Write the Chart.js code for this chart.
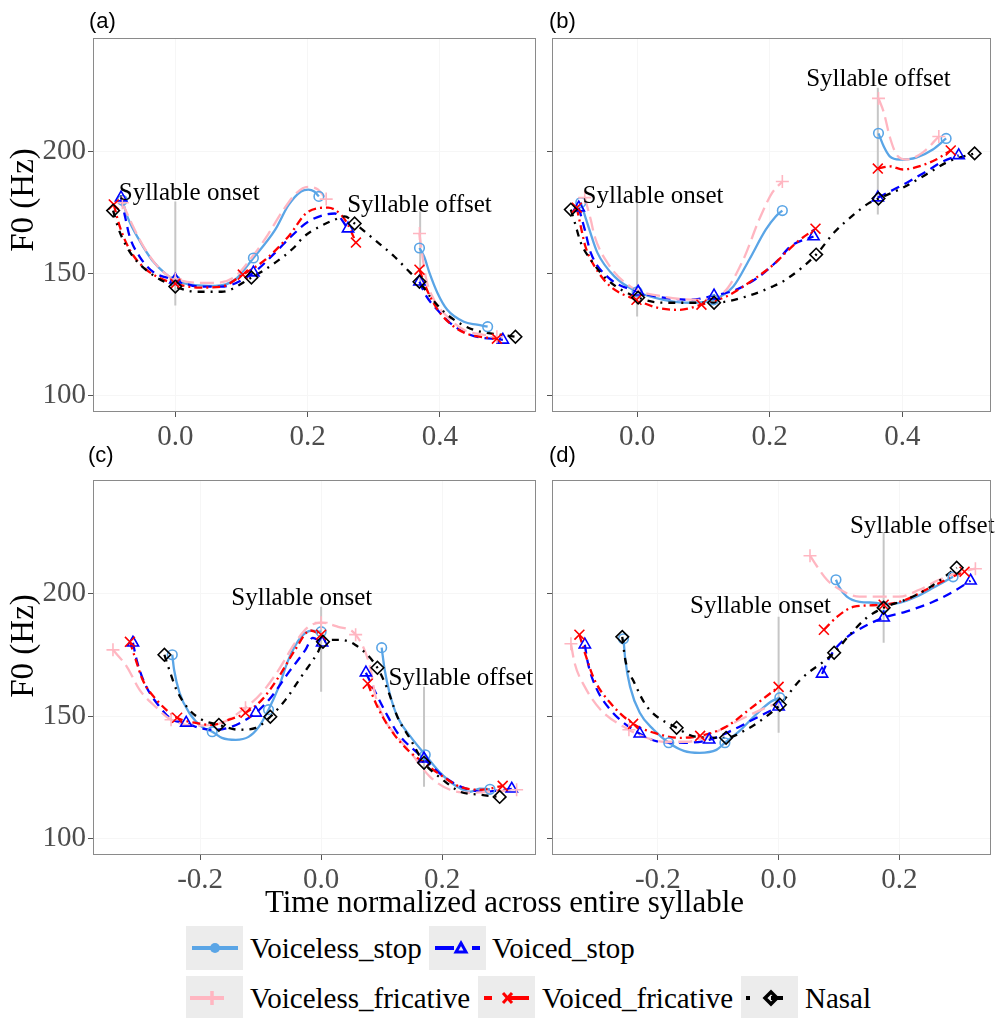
<!DOCTYPE html>
<html><head><meta charset="utf-8">
<script src="https://cdn.jsdelivr.net/npm/chart.js@4.4.1/dist/chart.umd.min.js"></script>
<style>
html,body{margin:0;padding:0;background:#fff;}
#root{position:relative;width:1000px;height:1018px;overflow:hidden;font-family:"Liberation Serif","Times New Roman",serif;background:#fff;}
#root canvas{position:absolute;}
.tag{position:absolute;font-family:"Liberation Sans",Arial,sans-serif;font-size:22px;line-height:22px;color:#000;}
.ytl{position:absolute;width:200px;height:40px;line-height:40px;text-align:center;font-size:33px;color:#000;transform:rotate(-90deg);white-space:nowrap;}
.xtl{position:absolute;left:0;width:1009px;text-align:center;font-size:31px;line-height:31px;top:886px;color:#000;white-space:nowrap;}
.key{position:absolute;width:57px;height:44px;}
.ltx{position:absolute;font-size:29px;line-height:44px;height:44px;color:#000;white-space:nowrap;}
</style></head><body><div id="root">
<canvas id="cA" width="545" height="440" style="left:0;top:18px;width:545px;height:440px"></canvas>
<canvas id="cB" width="458" height="440" style="left:542px;top:18px;width:458px;height:440px"></canvas>
<canvas id="cC" width="545" height="441" style="left:0;top:460px;width:545px;height:441px"></canvas>
<canvas id="cD" width="458" height="441" style="left:542px;top:460px;width:458px;height:441px"></canvas>
<div class="tag" style="left:89px;top:10px">(a)</div>
<div class="tag" style="left:549px;top:10px">(b)</div>
<div class="tag" style="left:88px;top:444px">(c)</div>
<div class="tag" style="left:549px;top:444px">(d)</div>
<div class="ytl" style="left:-78px;top:180px">F0 (Hz)</div>
<div class="ytl" style="left:-78px;top:626px">F0 (Hz)</div>
<div class="xtl">Time normalized across entire syllable</div>
<div id="legend"></div>
</div>
<script>
// ---------- axis / tick values ----------
const Y_TICKS = [100, 150, 200];
const Y_RANGE = [93.4, 246.4];
const X_TICKS_TOP = [0, 0.2, 0.4];
const X_TICKS_BOTTOM = [-0.2, 0, 0.2];
const X_RANGE_A = [-0.1244, 0.5457];
const X_RANGE_B = [-0.1284, 0.5343];
const X_RANGE_C = [-0.377, 0.3557];
const X_RANGE_D = [-0.3754, 0.3525];

const SERIES = ['Voiceless_stop', 'Voiced_stop', 'Voiceless_fricative', 'Voiced_fricative', 'Nasal'];

// ---------- panel (a) ----------
const A_VLSTOP_1 = [[-0.08,180],[-0.072,173],[-0.054,163.5],[-0.035,155.5],[-0.015,150],[0,147.2],[0.03,145.3],[0.06,145],[0.09,147.5],[0.118,156.4],[0.151,168],[0.171,178],[0.19,183.6],[0.201,184.4],[0.21,183.6],[0.217,181.6]];
const A_VLSTOP_2 = [[0.369,160.5],[0.376,157],[0.384,150.4],[0.396,142.2],[0.411,135.2],[0.436,130.3],[0.456,129.1],[0.472,128.3]];
const A_VLSTOP_M = [[-0.08,180],[0,147.2],[0.118,156.4],[0.217,181.6],[0.369,160.5],[0.472,128.3]];
const A_VDSTOP_1 = [[-0.082,181.1],[-0.076,173.4],[-0.069,165.2],[-0.054,157],[-0.034,150.8],[0,147.5],[0.036,144.7],[0.07,144.7],[0.118,150.4],[0.151,158.6],[0.175,165.2],[0.201,171.3],[0.241,174.6],[0.261,168.4]];
const A_VDSTOP_2 = [[0.369,146.7],[0.378,141.4],[0.396,135.2],[0.415,129.9],[0.445,125],[0.495,122.9]];
const A_VDSTOP_M = [[-0.082,181.1],[0,147.5],[0.118,150.4],[0.261,168.4],[0.369,146.7],[0.495,122.9]];
const A_VLFRIC_1 = [[-0.08,179],[-0.065,170],[-0.05,162],[-0.03,154],[-0.01,149],[0,147.8],[0.03,146.3],[0.06,146.2],[0.09,148.8],[0.118,157.5],[0.14,166],[0.163,176],[0.183,183],[0.2,185.5],[0.215,184.5],[0.228,180.5]];
const A_VLFRIC_2 = [[0.369,166.4],[0.373,158],[0.379,148],[0.391,139.3],[0.411,132.4],[0.436,127],[0.466,125],[0.486,124.2]];
const A_VLFRIC_M = [[-0.08,179],[0,147.8],[0.228,180.5],[0.369,166.4],[0.486,124.2]];
const A_VDFRIC_1 = [[-0.093,178.3],[-0.084,169.3],[-0.069,159.8],[-0.049,152.9],[-0.028,148.8],[0,145.9],[0.036,144.3],[0.07,144.7],[0.102,149.6],[0.136,155.7],[0.171,165.2],[0.201,175.4],[0.231,177],[0.25,174.2],[0.261,170],[0.273,162.7]];
const A_VDFRIC_2 = [[0.369,151.6],[0.376,146.3],[0.385,140.6],[0.4,134],[0.421,128.3],[0.445,125],[0.471,123.8],[0.486,123.4]];
const A_VDFRIC_M = [[-0.093,178.3],[0,145.9],[0.102,149.6],[0.273,162.7],[0.369,151.6],[0.486,123.4]];
const A_NASAL = [[-0.094,175.8],[-0.087,169.3],[-0.079,163.9],[-0.064,157],[-0.039,150.4],[0,144.7],[0.031,142.6],[0.07,142.6],[0.115,148.4],[0.151,154.5],[0.181,161.1],[0.193,164.8],[0.216,168.9],[0.241,172.1],[0.256,173.4],[0.271,170.5],[0.301,163.9],[0.331,157],[0.355,150.4],[0.369,146.7],[0.385,140.6],[0.406,134.4],[0.426,130.3],[0.451,127],[0.471,125.8],[0.514,124.2]];
const A_NASAL_M = [[-0.094,175.8],[0,144.7],[0.115,148.4],[0.271,170.5],[0.369,146.7],[0.514,124.2]];
const A_GUIDES = [[[0,137],[0,179.5]], [[0.37,144.5],[0.37,175.4]]];
const A_LABELS = [['Syllable onset',0.021,180.1], ['Syllable offset',0.369,175.1]];

// ---------- panel (b) ----------
const B_VLSTOP_1 = [[-0.085,179.1],[-0.072,168],[-0.06,158.6],[-0.034,148.8],[0,142.6],[0.04,139.3],[0.079,138.1],[0.115,139.3],[0.145,144.7],[0.169,155.7],[0.194,168],[0.209,173.4],[0.219,175.8]];
const B_VLSTOP_2 = [[0.364,207.4],[0.372,202],[0.381,198],[0.396,196.7],[0.421,197.5],[0.446,200.8],[0.466,205.3]];
const B_VLSTOP_M = [[-0.085,179.1],[0,142.6],[0.115,139.3],[0.219,175.8],[0.364,207.4],[0.466,205.3]];
const B_VDSTOP_1 = [[-0.088,177],[-0.079,168],[-0.07,158.6],[-0.045,148.8],[0.0015,142.6],[0.04,140.2],[0.079,139.3],[0.116,141],[0.149,143.4],[0.184,148.8],[0.213,155.7],[0.231,161.1],[0.266,165.2]];
const B_VDSTOP_2 = [[0.363,181.1],[0.387,184.4],[0.41,187.7],[0.436,191.8],[0.461,195.9],[0.485,198.4]];
const B_VDSTOP_M = [[-0.088,177],[0.0015,142.6],[0.116,141],[0.266,165.2],[0.363,181.1],[0.485,198.4]];
const B_VLFRIC_1 = [[-0.079,181.1],[-0.07,172.1],[-0.064,165.2],[-0.045,154.5],[-0.01,144.7],[0.04,140.6],[0.09,139.3],[0.13,142.2],[0.16,155.7],[0.184,172.1],[0.204,183.2],[0.219,187.7]];
const B_VLFRIC_2 = [[0.364,221.7],[0.372,216],[0.381,206],[0.391,198.8],[0.406,196.7],[0.431,199.6],[0.455,206.1]];
const B_VLFRIC_M = [[-0.079,181.1],[0.219,187.7],[0.364,221.7],[0.455,206.1]];
const B_VDFRIC_1 = [[-0.091,177],[-0.085,169.3],[-0.078,161.1],[-0.064,152.9],[-0.04,144.7],[-0.001,139.3],[0.03,136.1],[0.064,135.2],[0.097,137.3],[0.134,140.6],[0.175,147.5],[0.209,154.5],[0.224,158.6],[0.242,163.1],[0.269,168.4]];
const B_VDFRIC_2 = [[0.363,193],[0.381,193.9],[0.401,192.6],[0.425,193.9],[0.451,196.7],[0.473,200.4]];
const B_VDFRIC_M = [[-0.091,177],[-0.001,139.3],[0.097,137.3],[0.269,168.4],[0.363,193],[0.473,200.4]];
const B_NASAL = [[-0.1,176.2],[-0.094,170.9],[-0.085,162.7],[-0.07,155.7],[-0.045,147.5],[0.0015,140.2],[0.04,138.1],[0.116,138.1],[0.164,140.6],[0.204,144.7],[0.224,147.5],[0.27,157.8],[0.297,166.8],[0.327,174.2],[0.351,179.1],[0.364,180.7],[0.401,185.2],[0.436,190.6],[0.47,195.9],[0.509,199.2]];
const B_NASAL_M = [[-0.1,176.2],[0.0015,140.2],[0.116,138.1],[0.27,157.8],[0.364,180.7],[0.509,199.2]];
const B_GUIDES = [[[0,132.5],[0,179.5]], [[0.363,174.2],[0.363,226]]];
const B_LABELS = [['Syllable onset',0.024,179], ['Syllable offset',0.364,226.8]];

// ---------- panel (c) ----------
const C_VLSTOP_1 = [[-0.246,175.1],[-0.243,169],[-0.234,159.6],[-0.218,151.4],[-0.197,145.7],[-0.18,143.7],[-0.164,141.2],[-0.141,140.4],[-0.12,141.6],[-0.103,145.7],[-0.087,152.7],[-0.07,162],[-0.054,173.1],[-0.033,182.4],[-0.016,184.9],[0,184.5]];
const C_VLSTOP_2 = [[0.1,178],[0.105,169],[0.113,159.6],[0.126,149.8],[0.148,141.6],[0.172,134.3],[0.197,126.9],[0.225,121.2],[0.246,119.2],[0.262,120.5],[0.279,120.2]];
const C_VLSTOP_M = [[-0.246,175.1],[-0.18,143.7],[-0.087,152.7],[0,184.5],[0.1,178],[0.172,134.3],[0.279,120.2]];
const C_VDSTOP_1 = [[-0.311,180],[-0.305,173.1],[-0.292,163.7],[-0.267,153.9],[-0.246,148.6],[-0.223,147.3],[-0.202,145.3],[-0.174,144.5],[-0.148,145.7],[-0.108,151.4],[-0.082,158],[-0.054,167.8],[-0.026,177.1],[-0.014,182],[0.0016,180]];
const C_VDSTOP_2 = [[0.074,167.8],[0.09,159.6],[0.107,151.4],[0.126,143.3],[0.17,132.7],[0.203,125.3],[0.236,120.8],[0.269,119.2],[0.315,120.4]];
const C_VDSTOP_M = [[-0.311,180],[-0.223,147.3],[-0.108,151.4],[0.0016,180],[0.074,167.8],[0.17,132.7],[0.315,120.4]];
const C_VLFRIC = [[-0.344,177.1],[-0.321,170.2],[-0.3,160.8],[-0.272,153.5],[-0.248,148.6],[-0.21,146.2],[-0.169,147],[-0.125,153.5],[-0.098,159.6],[-0.07,169],[-0.043,180],[-0.021,186.5],[0,188.2],[0.028,186.5],[0.057,183.3],[0.082,169],[0.0885,159.6],[0.105,148.6],[0.126,141.6],[0.148,135.1],[0.18,125.3],[0.213,120],[0.246,118.8],[0.279,119.2],[0.323,120]];
const C_VLFRIC_M = [[-0.344,177.1],[-0.248,148.6],[-0.125,153.5],[0,188.2],[0.057,183.3],[0.323,120]];
const C_VDFRIC_1 = [[-0.316,180.4],[-0.308,174.3],[-0.295,164.9],[-0.272,156.7],[-0.238,149.4],[-0.207,147.3],[-0.18,146.5],[-0.152,148.6],[-0.125,151.4],[-0.098,156.7],[-0.07,166.1],[-0.043,177.1],[-0.018,185],[0,183.3]];
const C_VDFRIC_2 = [[0.077,163.3],[0.093,153.9],[0.115,144.5],[0.143,136.3],[0.17,131],[0.197,126.1],[0.23,121.2],[0.262,120],[0.3,121.6]];
const C_VDFRIC_M = [[-0.316,180.4],[-0.238,149.4],[-0.125,151.4],[0,183.3],[0.077,163.3],[0.3,121.6]];
const C_NASAL = [[-0.259,175.1],[-0.251,169],[-0.239,160.8],[-0.218,152.7],[-0.197,148.6],[-0.169,146.5],[-0.136,144.5],[-0.108,145.3],[-0.084,149.8],[-0.059,156.7],[-0.033,166.1],[-0.005,176.3],[0.003,180.4],[0.028,181.2],[0.056,179.2],[0.093,169.8],[0.11,160.8],[0.126,149.8],[0.148,140.4],[0.17,131],[0.197,124.9],[0.23,119.2],[0.262,118],[0.295,117.1]];
const C_NASAL_M = [[-0.259,175.1],[-0.169,146.5],[-0.084,149.8],[0.003,180.4],[0.093,169.8],[0.17,131],[0.295,117.1]];
const C_GUIDES = [[[0,160],[0,194.7]], [[0.17,121.2],[0.17,162]]];
const C_LABELS = [['Syllable onset',-0.032,195.5], ['Syllable offset',0.231,162.9]];

// ---------- panel (d) ----------
const D_VLSTOP_1 = [[-0.257,181.6],[-0.254,173.1],[-0.246,162],[-0.23,151.4],[-0.207,144.5],[-0.182,139.2],[-0.157,135.9],[-0.131,135.1],[-0.103,136.3],[-0.089,139.2],[-0.066,143.7],[-0.038,150.6],[-0.013,155.9],[0.002,157.6]];
const D_VLSTOP_2 = [[0.095,205.7],[0.1,202.9],[0.113,198.8],[0.134,196.7],[0.162,196.3],[0.174,195.8],[0.2,196.3],[0.228,198.8],[0.256,202.4],[0.289,206.9]];
const D_VLSTOP_M = [[-0.257,181.6],[-0.182,139.2],[-0.089,139.2],[0.002,157.6],[0.095,205.7],[0.174,194.8],[0.289,206.9]];
const D_VDSTOP_1 = [[-0.321,179.2],[-0.316,171.8],[-0.303,162],[-0.279,152.7],[-0.23,142.9],[-0.197,139.6],[-0.152,139.2],[-0.115,140.4],[-0.075,144.5],[-0.043,148.6],[-0.01,152.7],[0,153.9]];
const D_VDSTOP_2 = [[0.072,167.3],[0.085,174.3],[0.108,181.2],[0.141,186.5],[0.174,190.2],[0.211,192.7],[0.256,196.7],[0.289,200.8],[0.318,205.3]];
const D_VDSTOP_M = [[-0.321,179.2],[-0.23,142.9],[-0.115,140.4],[0,153.9],[0.072,167.3],[0.174,190.2],[0.318,205.3]];
const D_VLFRIC_1 = [[-0.344,179.6],[-0.338,171.8],[-0.321,162],[-0.295,152.7],[-0.248,144.5],[-0.223,141.6],[-0.19,139.6],[-0.152,139.6],[-0.12,141.6],[-0.087,145.7],[-0.054,149.8],[-0.021,153.5],[0,155.5]];
const D_VLFRIC_2 = [[0.052,215.5],[0.064,211],[0.08,205.7],[0.102,201.6],[0.134,198.8],[0.167,198.8],[0.2,198.8],[0.233,201.6],[0.266,205.7],[0.298,208.6],[0.326,210.2]];
const D_VLFRIC_M = [[-0.344,179.6],[-0.248,144.5],[0.052,215.5],[0.326,210.2]];
const D_VDFRIC_1 = [[-0.33,183.3],[-0.321,175.9],[-0.305,164.9],[-0.279,155.5],[-0.241,146.9],[-0.207,143.3],[-0.164,141.2],[-0.13,142],[-0.087,145.7],[-0.049,152.7],[0,162]];
const D_VDFRIC_2 = [[0.075,185.3],[0.097,190.6],[0.125,194.7],[0.174,195.5],[0.211,197.6],[0.244,201.6],[0.277,205.7],[0.308,209]];
const D_VDFRIC_M = [[-0.33,183.3],[-0.241,146.9],[-0.13,142],[0,162],[0.075,185.3],[0.174,195.5],[0.308,209]];
const D_NASAL = [[-0.259,182.4],[-0.254,173.1],[-0.239,163.7],[-0.218,153.9],[-0.169,145.3],[-0.136,141.6],[-0.087,141.2],[-0.054,144.5],[-0.021,149.8],[0.002,154.7],[0.036,164.9],[0.092,175.9],[0.118,183.3],[0.146,190.2],[0.174,194.3],[0.211,197.6],[0.244,201.6],[0.295,210.6]];
const D_NASAL_M = [[-0.259,182.4],[-0.169,145.3],[-0.087,141.2],[0.002,154.7],[0.092,175.9],[0.174,194.3],[0.295,210.6]];
const D_GUIDES = [[[0,143.3],[0,190.6]], [[0.174,180],[0.174,224.9]]];
const D_LABELS = [['Syllable onset',-0.03,192.2], ['Syllable offset',0.238,224.9]];

// ---------- styles ----------
const STYLE = {
  Voiceless_stop:      {color:'#5aa5e6', dash:[],         point:'circle',   r:4.8},
  Voiced_stop:         {color:'#0000ff', dash:[9,6],      point:'triangle', r:6.5},
  Voiceless_fricative: {color:'#ffb6c1', dash:[14,6],     point:'cross',    r:6.5},
  Voiced_fricative:    {color:'#ff0000', dash:[8,4,2,4],  point:'crossRot', r:7},
  Nasal:               {color:'#000000', dash:[7,6,2,6],  point:'rectRot',  r:6.3}
};

const xy = arr => arr.map(([x, y]) => ({x, y}));

function buildDatasets(segs, marks, guides) {
  const ds = [];
  guides.forEach(g => ds.push({data: xy(g), borderColor:'#c6c6c6', borderWidth:2, pointRadius:0, order:1000}));
  SERIES.forEach((name, i) => {
    const st = STYLE[name];
    segs[i].forEach(seg => ds.push({
      data: xy(seg), borderColor: st.color, borderWidth: 2.3, borderDash: st.dash,
      pointRadius: 0, cubicInterpolationMode: 'monotone', fill: false, order: 500 - i * 10
    }));
    ds.push({
      data: xy(marks[i]), showLine: false, pointStyle: st.point, pointRadius: st.r,
      pointBorderColor: st.color, pointBackgroundColor: 'rgba(0,0,0,0)', pointBorderWidth: 1.6,
      borderColor: st.color, order: 100 - i
    });
  });
  return ds;
}

function decor(labels) {
  return {
    id: 'decor',
    afterDatasetsDraw(chart) {
      const {ctx, chartArea: a, scales: {x, y}} = chart;
      ctx.save();
      ctx.font = '25px "Liberation Serif"';
      ctx.fillStyle = '#000';
      ctx.textAlign = 'center';
      ctx.textBaseline = 'alphabetic';
      labels.forEach(([t, px, py]) => ctx.fillText(t, x.getPixelForValue(px), y.getPixelForValue(py)));
      ctx.strokeStyle = '#8a8a8a';
      ctx.lineWidth = 1;
      ctx.strokeRect(Math.round(a.left) + 0.5, Math.round(a.top) + 0.5, Math.round(a.width) - 1, Math.round(a.height) - 1);
      ctx.restore();
    }
  };
}

function makePanel(id, xRange, xTicks, showY, yWidth, segs, marks, guides, labels, padRight) {
  new Chart(document.getElementById(id), {
    type: 'line',
    data: {datasets: buildDatasets(segs, marks, guides)},
    plugins: [decor(labels)],
    options: {
      responsive: false, animation: false, devicePixelRatio: 1, events: [],
      layout: {padding: {top: 20, right: padRight, left: 0, bottom: 0}},
      plugins: {legend: {display: false}, tooltip: {enabled: false}},
      scales: {
        x: {
          type: 'linear', min: xRange[0], max: xRange[1],
          afterBuildTicks: s => { s.ticks = xTicks.map(v => ({value: v})); },
          afterFit: s => { s.height = 46; },
          border: {display: false},
          grid: {color: '#f6f6f6', tickColor: '#555', tickLength: 5, drawTicks: true},
          ticks: {
            color: '#4d4d4d', padding: 3, maxRotation: 0,
            font: {family: 'Liberation Serif', size: 29},
            callback: v => (v < 0 ? '-' : '') + Math.abs(v).toFixed(1)
          }
        },
        y: {
          type: 'linear', min: Y_RANGE[0], max: Y_RANGE[1],
          afterBuildTicks: s => { s.ticks = Y_TICKS.map(v => ({value: v})); },
          afterFit: s => { s.width = yWidth; },
          border: {display: false},
          grid: {color: '#f6f6f6', tickColor: '#555', tickLength: 5, drawTicks: true},
          ticks: {
            display: showY, color: '#4d4d4d', padding: 2,
            font: {family: 'Liberation Serif', size: 29},
            callback: v => String(v)
          }
        }
      }
    }
  });
}

makePanel('cA', X_RANGE_A, X_TICKS_TOP, true, 93,
  [[A_VLSTOP_1, A_VLSTOP_2], [A_VDSTOP_1, A_VDSTOP_2], [A_VLFRIC_1, A_VLFRIC_2], [A_VDFRIC_1, A_VDFRIC_2], [A_NASAL]],
  [A_VLSTOP_M, A_VDSTOP_M, A_VLFRIC_M, A_VDFRIC_M, A_NASAL_M], A_GUIDES, A_LABELS, 5);
makePanel('cB', X_RANGE_B, X_TICKS_TOP, false, 10,
  [[B_VLSTOP_1, B_VLSTOP_2], [B_VDSTOP_1, B_VDSTOP_2], [B_VLFRIC_1, B_VLFRIC_2], [B_VDFRIC_1, B_VDFRIC_2], [B_NASAL]],
  [B_VLSTOP_M, B_VDSTOP_M, B_VLFRIC_M, B_VDFRIC_M, B_NASAL_M], B_GUIDES, B_LABELS, 4);
makePanel('cC', X_RANGE_C, X_TICKS_BOTTOM, true, 93,
  [[C_VLSTOP_1, C_VLSTOP_2], [C_VDSTOP_1, C_VDSTOP_2], [C_VLFRIC], [C_VDFRIC_1, C_VDFRIC_2], [C_NASAL]],
  [C_VLSTOP_M, C_VDSTOP_M, C_VLFRIC_M, C_VDFRIC_M, C_NASAL_M], C_GUIDES, C_LABELS, 5);
makePanel('cD', X_RANGE_D, X_TICKS_BOTTOM, false, 10,
  [[D_VLSTOP_1, D_VLSTOP_2], [D_VDSTOP_1, D_VDSTOP_2], [D_VLFRIC_1, D_VLFRIC_2], [D_VDFRIC_1, D_VDFRIC_2], [D_NASAL]],
  [D_VLSTOP_M, D_VDSTOP_M, D_VLFRIC_M, D_VDFRIC_M, D_NASAL_M], D_GUIDES, D_LABELS, 4);

// ---------- legend ----------
const LEG = document.getElementById('legend');
function keySVG(name) {
  const c = STYLE[name].color;
  let g = '';
  if (name === 'Voiceless_stop') {
    g = `<line x1="6" y1="22" x2="52" y2="22" stroke="${c}" stroke-width="4"/><circle cx="29" cy="22" r="5" fill="${c}"/>`;
  } else if (name === 'Voiced_stop') {
    g = `<line x1="6" y1="22" x2="25" y2="22" stroke="${c}" stroke-width="4"/><polygon points="32,17 37,26 27,26" fill="none" stroke="${c}" stroke-width="3"/><line x1="43" y1="22" x2="51" y2="22" stroke="${c}" stroke-width="4"/>`;
  } else if (name === 'Voiceless_fricative') {
    g = `<line x1="4" y1="22" x2="38" y2="22" stroke="${c}" stroke-width="4"/><line x1="26" y1="15" x2="26" y2="29" stroke="${c}" stroke-width="3.5"/>`;
  } else if (name === 'Voiced_fricative') {
    g = `<line x1="6" y1="22" x2="14" y2="22" stroke="${c}" stroke-width="4"/><line x1="25" y1="17" x2="34" y2="27" stroke="${c}" stroke-width="3"/><line x1="25" y1="27" x2="34" y2="17" stroke="${c}" stroke-width="3"/><line x1="30" y1="22" x2="51" y2="22" stroke="${c}" stroke-width="4"/>`;
  } else {
    g = `<rect x="5" y="20" width="4" height="4" fill="${c}"/><polygon points="30,16 36,22 30,28 24,22" fill="none" stroke="${c}" stroke-width="3.5"/><line x1="30" y1="22" x2="42" y2="22" stroke="${c}" stroke-width="4"/>`;
  }
  return `<svg width="57" height="44" xmlns="http://www.w3.org/2000/svg"><rect x="0" y="0" width="57" height="44" fill="#ececec"/>${g}</svg>`;
}
const LEGEND_LAYOUT = [
  ['Voiceless_stop', 186, 250, 926],
  ['Voiced_stop', 429, 492, 926],
  ['Voiceless_fricative', 186, 250, 976],
  ['Voiced_fricative', 478, 542, 976],
  ['Nasal', 741, 805, 976]
];
LEGEND_LAYOUT.forEach(([name, kx, tx, ty]) => {
  const k = document.createElement('div');
  k.className = 'key'; k.style.left = kx + 'px'; k.style.top = ty + 'px';
  k.innerHTML = keySVG(name);
  LEG.appendChild(k);
  const t = document.createElement('div');
  t.className = 'ltx'; t.style.left = tx + 'px'; t.style.top = ty + 'px';
  t.textContent = name;
  LEG.appendChild(t);
});
</script>
</body></html>
